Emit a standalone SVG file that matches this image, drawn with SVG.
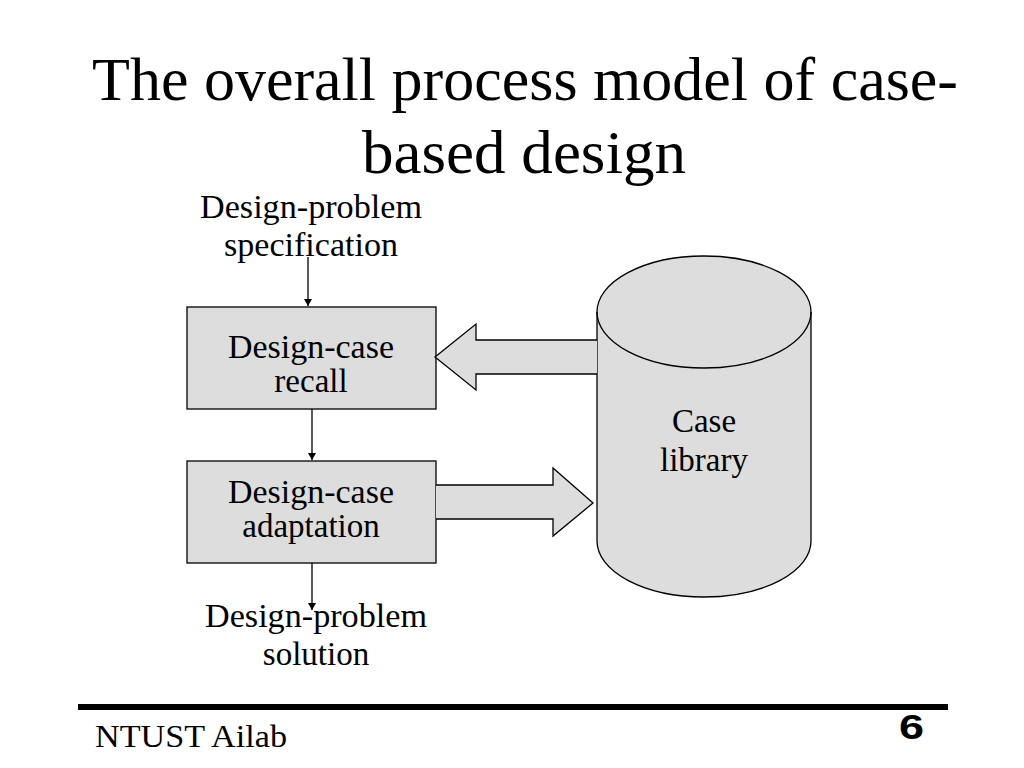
<svg xmlns="http://www.w3.org/2000/svg" width="1024" height="768" viewBox="0 0 1024 768">
<defs>
<style>
.t{font-family:"Liberation Serif","Times New Roman",serif;fill:#000}
.lbl{font-size:33px;text-anchor:middle}
.shape{fill:#ddd;stroke:#000;stroke-width:1.3}
.ln{stroke:#000;stroke-width:1.3;fill:none}
</style>
<marker id="ah" markerWidth="8" markerHeight="10" refX="7" refY="5" orient="auto" markerUnits="userSpaceOnUse">
<path d="M0,1 L7,5 L0,9 Z" fill="#000"/>
</marker>
</defs>
<rect width="1024" height="768" fill="#fff"/>
<g id="title">
<text class="t" x="92" y="100" font-size="61" textLength="866" lengthAdjust="spacingAndGlyphs">The overall process model of case-</text>
<text class="t" x="362" y="173" font-size="61" textLength="324" lengthAdjust="spacingAndGlyphs">based design</text>
</g>
<g id="spec">
<text class="t lbl" x="311" y="218" textLength="222" lengthAdjust="spacingAndGlyphs">Design-problem</text>
<text class="t lbl" x="311" y="256" textLength="174" lengthAdjust="spacingAndGlyphs">specification</text>
</g>
<g id="recall">
<rect class="shape" x="187" y="307" width="249" height="102"/>
<text class="t lbl" x="311" y="358" textLength="166" lengthAdjust="spacingAndGlyphs">Design-case</text>
<text class="t lbl" x="311" y="392">recall</text>
</g>
<g id="adaptation">
<rect class="shape" x="187" y="461" width="249" height="102"/>
<text class="t lbl" x="311" y="503" textLength="166" lengthAdjust="spacingAndGlyphs">Design-case</text>
<text class="t lbl" x="311" y="537">adaptation</text>
</g>
<g id="solution">
<text class="t lbl" x="316" y="627" textLength="222" lengthAdjust="spacingAndGlyphs">Design-problem</text>
<text class="t lbl" x="316" y="665">solution</text>
</g>
<g id="library">
<path class="shape" d="M597,312 L597,541 A107,56 0 0 0 811,541 L811,312 A107,56 0 0 0 597,312 Z"/>
<path class="ln" d="M597,312 A107,56 0 0 0 811,312"/>
<text class="t lbl" x="704" y="432">Case</text>
<text class="t lbl" x="704" y="471">library</text>
</g>
<g id="connectors">
<line class="ln" x1="308" y1="257" x2="308" y2="306" marker-end="url(#ah)"/>
<line class="ln" x1="312" y1="409" x2="312" y2="460" marker-end="url(#ah)"/>
<line class="ln" x1="312" y1="563" x2="312" y2="610" marker-end="url(#ah)"/>
<path class="shape" d="M597,340 L476,340 L476,324 L435,357 L476,390 L476,374 L597,374"/>
<path class="shape" d="M436,485 L553,485 L553,468 L593,503 L553,536 L553,519 L436,519"/>
</g>
<g id="footer">
<rect x="78" y="704" width="870" height="6" fill="#000"/>
<text class="t" x="95" y="747" font-size="32" textLength="192" lengthAdjust="spacingAndGlyphs">NTUST Ailab</text>
<text x="899" y="739" font-family="Liberation Sans,Arial,sans-serif" font-weight="bold" font-size="35" textLength="25" lengthAdjust="spacingAndGlyphs">6</text>
</g>
</svg>
